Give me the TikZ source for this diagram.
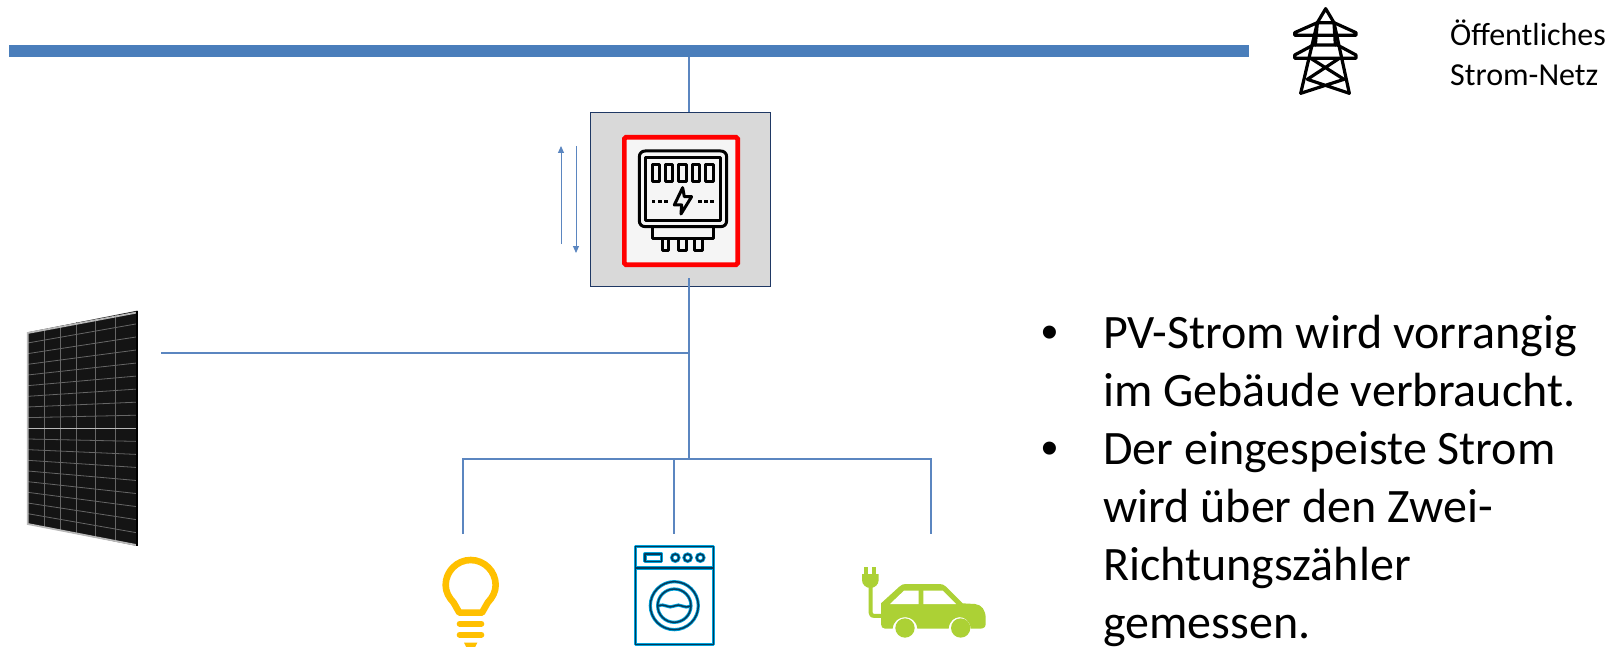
\documentclass[tikz,border=0pt]{standalone}
\usepackage{fontspec}
\setmainfont{Carlito}
\newfontfamily\bulletfont{Liberation Sans}
\usetikzlibrary{arrows.meta}
\definecolor{busblue}{HTML}{4A7EBB}
\definecolor{wire}{HTML}{5B86C0}
\definecolor{boxgray}{HTML}{D9D9D9}
\definecolor{boxedge}{HTML}{1F3864}
\definecolor{bulbc}{HTML}{FFC000}
\definecolor{carc}{HTML}{ACD135}
\definecolor{washc}{HTML}{00A3DC}
\definecolor{washd}{HTML}{053A5A}
\definecolor{panel}{HTML}{141414}
\definecolor{pframe}{HTML}{B8B8B8}
\definecolor{pgrid}{HTML}{666666}
\tikzset{
  x=1pt,y=-1pt,
  wireline/.style={draw=wire,line width=1.6pt},
  flow/.style={draw=wire,line width=1pt,-{Triangle[length=7pt,width=6pt]}},
  zoomed/.style={x=0.3333pt,y=-0.3333pt},
  icon/.style={draw=black,line width=3pt,line join=round,line cap=round},
  pylonline/.style={draw=black,line width=3.2pt,line join=round,line cap=round},
  wash/.style={line join=round},
  bigtext/.style={font=\fontsize{48}{58}\selectfont,align=left,anchor=north west,inner sep=0pt},
  bullettext/.style={font=\bulletfont\fontsize{48}{58}\selectfont,anchor=north west,inner sep=0pt},
  smalltext/.style={font=\fontsize{32}{40}\selectfont,align=left,anchor=north west,inner sep=0pt},
}
\begin{document}
\begin{tikzpicture}
\path[use as bounding box,clip] (0,0) rectangle (1624,647);
\fill[white] (0,0) rectangle (1624,647);
% bus
\node[fill=busblue,inner sep=0pt,minimum width=1240pt,minimum height=12pt,anchor=north west] (bus) at (9,45) {};
% meter box
\node[draw=boxedge,fill=boxgray,line width=1.2pt,inner sep=0pt,minimum width=180pt,minimum height=174pt,anchor=north west] (meterbox) at (590,112) {};
\node[draw=red,fill=white!96!black,line width=4.7pt,rounded corners=1.5pt,inner sep=0pt,minimum width=113.3pt,minimum height=127.3pt,anchor=north west] (meterface) at (622,135) {};
% junctions
\coordinate (tapTop) at (689,57);
\coordinate (meterIn) at (689,112);
\coordinate (meterOut) at (689,278);
\coordinate (pvJoin) at (689,353);
\coordinate (pvEnd) at (161,353);
\coordinate (loadJoin) at (689,459);
\coordinate (loadL) at (463,459);
\coordinate (loadM) at (674,459);
\coordinate (loadR) at (931,459);
\coordinate (dropL) at (463,534);
\coordinate (dropM) at (674,534);
\coordinate (dropR) at (931,534);
\coordinate (upA) at (561,244);
\coordinate (upB) at (561,146);
\coordinate (dnA) at (576,146);
\coordinate (dnB) at (576,253);
\draw[wireline] (tapTop) -- (meterIn);
\draw[wireline] (meterOut) -- (pvJoin) -- (loadJoin);
\draw[wireline] (pvJoin) -- (pvEnd);
\draw[wireline] (dropL) -- (loadL) -- (loadR) -- (dropR);
\draw[wireline] (loadM) -- (dropM);
\draw[flow] (upA) -- (upB);
\draw[flow] (dnA) -- (dnB);
% meter icon
\begin{scope}[shift={(520,90)},zoomed]
\draw[icon] (358,201) .. controls (358,190) and (365,183) .. (376,183) -- (602,183) .. controls (613,183) and (620,190) .. (620,201) -- (620,392) .. controls (620,403) and (613,410) .. (602,410) -- (376,410) .. controls (365,410) and (358,403) .. (358,392) -- cycle;
\draw[icon] (378,202) rectangle (603,392);
\foreach \a/\b in {397/420,436/459,477/500,517/540,556/580}{\draw[icon] (\a,223) rectangle (\b,275);}
\foreach \xx in {395,415,433,535,553,571}{\fill[black] (\xx,329) rectangle (\xx+11,338);}
\draw[icon] (488,293) -- (463,345) -- (485,345) -- (483,372) -- (515,320) -- (493,320) -- cycle;
\draw[icon] (397,410) -- (397,447) -- (580,447) -- (580,410);
\foreach \a/\b in {427/447,477/500,525/548}{\draw[icon] (\a,447) -- (\a,483) -- (\b,483) -- (\b,447);}
\end{scope}
% pylon
\begin{scope}[shift={(1260,0)},zoomed]
\draw[pylonline] (122,280) -- (172,68) -- (197,26) -- (222,68) -- (268,280);
\draw[pylonline] (172,68) -- (104,98) -- (104,106) -- (288,106) -- (288,98) -- (222,68);
\draw[pylonline] (160,135) -- (104,165) -- (104,175) -- (288,175) -- (288,165) -- (232,135) -- cycle;
\draw[pylonline] (172,68) -- (166,135) (222,68) -- (226,135) (172,68) -- (222,68);
\draw[pylonline] (152,175) -- (252,238) -- (122,280) (238,175) -- (142,238) -- (268,280);
\end{scope}
\node[smalltext] (gridlabel) at (1450,20) {Öffentliches\\Strom-Netz};
% PV panel
\begin{scope}[shift={(0,300)},zoomed]
\fill[panel] (83,97) -- (412,32) -- (412,738) -- (83,672) -- cycle;
\foreach \i in {1,...,8}{
  \draw[pgrid,line width=0.8pt] (83,{97+\i*32}) -- (412,{32+\i*39.2});
  \draw[pgrid,line width=0.8pt] (83,{385+\i*32}) -- (412,{385+\i*39.2});
}
\foreach \xx/\t/\b in {132/87/680,180/77/690,230/67/700,285/57/712,345/45/725}{
  \draw[pgrid,line width=0.8pt] (\xx,\t) -- (\xx,\b);
}
\draw[pframe,line width=1.6pt] (83,385) -- (408,385);
\draw[pframe,line width=1.8pt] (408,38) -- (83,99) -- (83,672) -- (408,735);
\draw[black,line width=1.8pt] (412,32) -- (412,738);
\end{scope}
% bulb
\begin{scope}[shift={(420,530)},zoomed]
\draw[bulbc,line width=6.6pt,line join=round] (203,218) .. controls (218,202) and (227,185) .. (227,165) .. controls (227,124) and (193,90) .. (152,90) .. controls (111,90) and (77,124) .. (77,165) .. controls (77,185) and (86,202) .. (101,218) -- (118,248) -- (186,248) -- cycle;
\foreach \yy in {281,314}{\draw[bulbc,line width=6pt,line cap=round] (119,\yy) -- (184,\yy);}
\fill[bulbc] (132,338) -- (172,338) -- (165,352) -- (139,352) -- cycle;
\end{scope}
% washer
\begin{scope}[shift={(420,530)},zoomed]
\foreach \c/\w in {washc/3.2pt,washd/1.5pt}{
  \draw[\c,line width=\w,wash] (647,50) rectangle (881,343);
  \draw[\c,line width=\w,wash] (647,114) -- (881,114);
  \draw[\c,line width=\w,wash] (675,72) rectangle (725,94);
  \foreach \xx in {766,803,841}{\draw[\c,line width=\w] (\xx,83) circle (11);}
  \draw[\c,line width=\w] (763,227) circle (72);
  \draw[\c,line width=\w] (763,227) circle (50);
  \draw[\c,line width=\w] (715,228) .. controls (735,218) and (745,238) .. (763,228) .. controls (781,218) and (791,238) .. (811,228);
}
\end{scope}
% car
\begin{scope}[shift={(840,550)},zoomed]
\fill[carc] (123,160) -- (178,110) .. controls (184,104) and (190,102) .. (198,102) -- (298,102) .. controls (306,102) and (312,104) .. (318,110) -- (368,160) -- (405,162) .. controls (425,164) and (437,180) .. (437,205) -- (437,222) .. controls (437,232) and (430,236) .. (420,236) -- (392,236) .. controls (388,190) and (330,190) .. (326,236) -- (232,236) .. controls (228,190) and (162,190) .. (158,236) -- (135,236) .. controls (127,236) and (123,230) .. (123,222) -- cycle;
\fill[white] (150,162) -- (192,122) -- (236,122) -- (236,162) -- cycle;
\fill[white] (250,122) -- (308,122) -- (348,162) -- (250,162) -- cycle;
\fill[carc] (195,234) circle (29);
\fill[carc] (362,234) circle (29);
\draw[carc,line width=4pt,line join=round] (92,110) -- (92,188) .. controls (92,196) and (96,198) .. (104,198) -- (125,198);
\fill[carc] (66,72) -- (116,72) -- (116,90) .. controls (116,104) and (104,114) .. (91,114) .. controls (78,114) and (66,104) .. (66,90) -- cycle;
\fill[carc] (71,50) rectangle (83,74);
\fill[carc] (97,50) rectangle (109,74);
\end{scope}
% text
\node[bullettext] (bullet1) at (1041,326) {•};
\node[bigtext] (para1) at (1103,315) {PV-Strom wird vorrangig\\im Gebäude verbraucht.};
\node[bullettext] (bullet2) at (1041,442) {•};
\node[bigtext] (para2) at (1103,431) {Der eingespeiste Strom\\wird über den Zwei-\\Richtungszähler\\gemessen.};
\end{tikzpicture}
\end{document}
